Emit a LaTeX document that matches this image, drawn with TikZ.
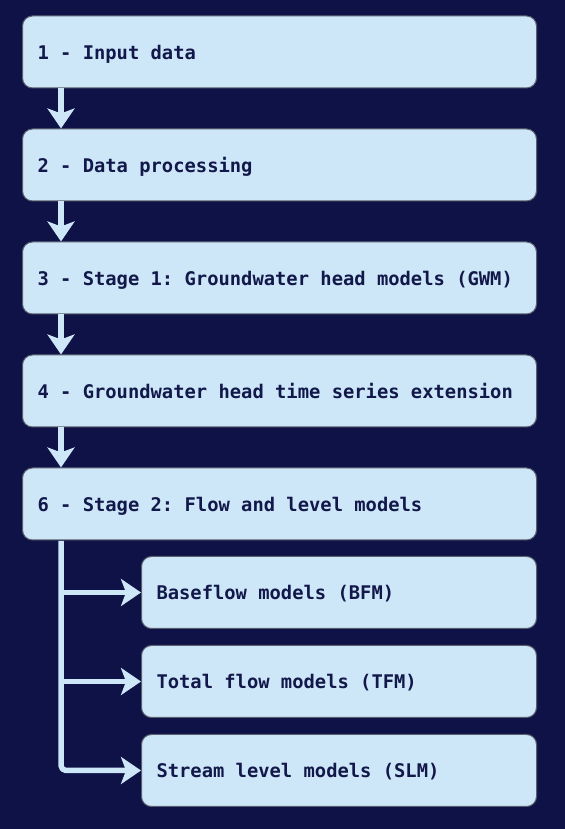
\documentclass[tikz,border=0pt]{standalone}
\usepackage{fontspec}
\newfontfamily\boxfont{DejaVu Sans Mono}[BoldFont={DejaVu Sans Mono Bold}]
\usetikzlibrary{arrows.meta}
\definecolor{bgnavy}{HTML}{0F1247}
\definecolor{boxblue}{HTML}{CDE7F8}
\definecolor{inknavy}{HTML}{12184A}
\definecolor{rimgray}{HTML}{5A5F6E}
\tikzset{
  stagebox/.style={draw=rimgray,line width=1bp,fill=boxblue,rounded corners=10bp,
    anchor=west,minimum height=72bp,inner xsep=15bp,align=left,text depth=0pt,
    text=inknavy,font=\boxfont\bfseries\fontsize{18.8bp}{22bp}\selectfont,
    execute at begin node={\spaceskip=\fontdimen2\font\xspaceskip=\fontdimen2\font\relax}},
  mainbox/.style={stagebox,text width=484bp},
  subbox/.style={stagebox,text width=365bp},
  flow/.style={draw=boxblue,line width=5.5bp,
    -{Stealth[length=20bp,width=27bp,inset=5bp]}},
}
\begin{document}
\begin{tikzpicture}[line join=round]
\fill[bgnavy] (0bp,0bp) rectangle (565bp,829bp);
\useasboundingbox (0bp,0bp) rectangle (565bp,829bp);
%%
\node (input) at (22bp,777bp) [mainbox] {1 - Input data};
  \node (processing) at (22bp,664bp) [mainbox] {2 - Data processing};
  \node (gwm) at (22bp,551bp) [mainbox] {3 - Stage 1: Groundwater head models (GWM)};
  \node (extension) at (22bp,438bp) [mainbox] {4 - Groundwater head time series extension};
  \node (stagetwo) at (22bp,325bp) [mainbox] {6 - Stage 2: Flow and level models};
  \node (bfm) at (141bp,236.5bp) [subbox] {Baseflow models (BFM)};
  \node (tfm) at (141bp,147.5bp) [subbox] {Total flow models (TFM)};
  \node (slm) at (141bp,58.5bp) [subbox] {Stream level models (SLM)};
  \coordinate (trunk) at ([xshift=39bp]stagetwo.south west);
  \draw [flow] ([xshift=39bp]input.south west) -- ([xshift=39bp]processing.north west);
  \draw [flow] ([xshift=39bp]processing.south west) -- ([xshift=39bp]gwm.north west);
  \draw [flow] ([xshift=39bp]gwm.south west) -- ([xshift=39bp]extension.north west);
  \draw [flow] ([xshift=39bp]extension.south west) -- ([xshift=39bp]stagetwo.north west);
  \draw [flow,rounded corners=5bp] ([yshift=-0.5bp]trunk) |- (slm.west);
  \draw [flow] (trunk |- bfm.west) -- (bfm.west);
  \draw [flow] (trunk |- tfm.west) -- (tfm.west);
%
\end{tikzpicture}
\end{document}
